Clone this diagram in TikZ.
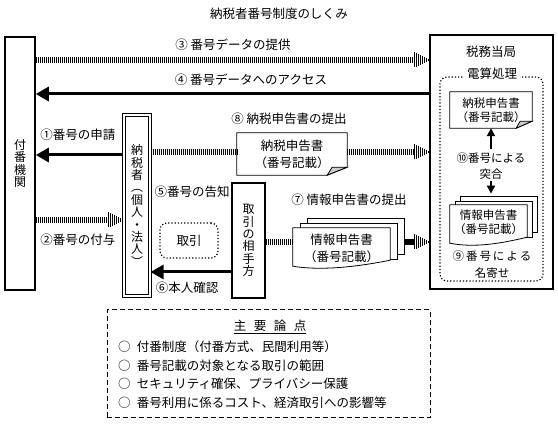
\documentclass[tikz,border=0pt]{standalone}
\usepackage{fontspec}
\newfontfamily\jpfont{Noto Sans CJK JP}
\usetikzlibrary{arrows.meta}
\tikzset{
every node/.style={font=\jpfont\fontsize{12.5}{15}\selectfont, inner sep=0pt},
vtext/.style={align=center, font=\jpfont\fontsize{12}{12.4}\selectfont},
box/.style={draw, line width=1.6pt},
dotbox/.style={draw, dotted, line width=1.2pt, rounded corners=7pt},
doc/.style={align=center, font=\jpfont\fontsize{12.5}{17}\selectfont},
smalldoc/.style={align=center, font=\jpfont\fontsize{11.5}{14}\selectfont},
docline/.style={draw, line width=0.8pt},
backdoc/.style={draw, fill=white, line width=0.8pt},
solidarrow/.style={line width=3pt, -{Triangle[length=13pt,width=14pt]}},
smallarrow/.style={line width=2pt, -{Triangle[length=8pt,width=8pt]}},
hatch/.style={line width=6pt, dash pattern=on 1.2pt off 0.8pt},
hatchtip/.pic={
  \foreach \i in {0,...,7}
    \draw[line width=1.1pt, solid, shorten >=0pt, shorten <=0pt] (-15+2*\i,{-7.5*(1-\i/8)}) -- (-15+2*\i,{7.5*(1-\i/8)});
  }
}
\begin{document}
\begin{tikzpicture}[x=1pt,y=-1pt]
\useasboundingbox (0,0) rectangle (558,425);

\node (title) at (279,14) {納税者番号制度のしくみ};

\node[box, vtext, minimum width=30pt, minimum height=253pt] (fuban) at (20,163.5) {付\\番\\機\\関};
\node[box, minimum width=123pt, minimum height=254pt] (zeimu) at (491.5,162) {};
\node (zeimulabel) at (491,52) {税務当局};
\node[dotbox, minimum width=103pt, minimum height=204pt] (densan) at (491.5,179) {};
\node[fill=white, inner xsep=3pt, inner ysep=1pt] (densanlabel) at (492,74) {電算処理};

\node[draw, double, double distance=2pt, line width=1.1pt, vtext, minimum width=26pt, minimum height=181pt] (taxpayer) at (137,205.5) {納\\税\\者\\︵\\個\\人\\・\\法\\人\\︶};
\node[box, vtext, minimum width=33pt, minimum height=115pt] (aite) at (248.5,240.5) {取\\引\\の\\相\\手\\方};
\node[dotbox, minimum width=58pt, minimum height=35pt] (torihiki) at (189,240.5) {取引};

% tax return
\node[doc, minimum width=110pt, minimum height=42pt] (tdoc) at (292,154) {納税申告書\\（番号記載）};
\draw[docline] (tdoc.north west) -- (tdoc.north east) -- ([yshift=8pt]tdoc.south east) -- ([xshift=-20pt]tdoc.south east) -- (tdoc.south west) -- cycle;
\filldraw[docline, fill=gray!40] ([xshift=-20pt]tdoc.south east) -- ([xshift=-15pt,yshift=8pt]tdoc.south east) -- ([yshift=8pt]tdoc.south east) -- cycle;

\node[smalldoc, minimum width=82pt, minimum height=36pt] (tdoc2) at (491,110) {納税申告書\\（番号記載）};
\draw[docline] (tdoc2.north west) -- (tdoc2.north east) -- ([yshift=7pt]tdoc2.south east) -- ([xshift=-16pt]tdoc2.south east) -- (tdoc2.south west) -- cycle;
\filldraw[docline, fill=gray!40] ([xshift=-16pt]tdoc2.south east) -- ([xshift=-12pt,yshift=7pt]tdoc2.south east) -- ([yshift=7pt]tdoc2.south east) -- cycle;

% information returns
\node[backdoc, minimum width=97pt, minimum height=36pt] (idocc) at (355.5,236) {};
\node[backdoc, minimum width=97pt, minimum height=36pt] (idocb) at (348.5,241) {};
\node[minimum width=97pt, minimum height=38pt] (idoc) at (341.5,247) {};
\filldraw[docline, fill=white] ([yshift=6pt]idoc.south east) -- (idoc.north east) -- (idoc.north west) -- (idoc.south west) .. controls +(30pt,-5pt) and +(-30pt,-6pt) .. ([yshift=6pt]idoc.south east);
\node[doc] (idoctext) at (341.5,248.5) {情報申告書\\（番号記載）};

\node[backdoc, minimum width=77pt, minimum height=36pt] (idoc2c) at (498.5,214) {};
\node[backdoc, minimum width=77pt, minimum height=36pt] (idoc2b) at (493.5,219) {};
\node[minimum width=77pt, minimum height=38pt] (idoc2) at (488.5,224) {};
\filldraw[docline, fill=white] ([yshift=6pt]idoc2.south east) -- (idoc2.north east) -- (idoc2.north west) -- (idoc2.south west) .. controls +(25pt,-5pt) and +(-25pt,-6pt) .. ([yshift=6pt]idoc2.south east);
\node[smalldoc] (idoc2text) at (488.5,222) {情報申告書\\（番号記載）};

\node[align=center, font=\jpfont\fontsize{11.5}{16}\selectfont] (k10) at (491,166) {⑩番号による\\突合};
\node[align=center, font=\jpfont\fontsize{11.5}{17}\selectfont] (k9) at (492,265) {⑨\,番\,号\,に\,よ\,る\\名寄せ};
\draw[smallarrow, shorten <=3pt] (k10.north) -- (k10.north |- tdoc2.south);
\draw[smallarrow, shorten <=1pt, shorten >=2pt] (k10.south) -- (k10.south |- idoc2c.north);

% flows
\node (l3) at (233,45) {③ 番号データの提供};
\draw[hatch, shorten >=15pt] (fuban.east |- 0,60) -- (zeimu.west |- 0,60) pic {hatchtip};
\node (l4) at (251,80) {④ 番号データへのアクセス};
\draw[solidarrow] (zeimu.west |- 0,94) -- (fuban.east |- 0,94);

\node (l1) at (78,135) {①番号の申請};
\draw[solidarrow] (taxpayer.west |- 0,155) -- (fuban.east |- 0,155);
\node (l2) at (78,240) {②番号の付与};
\draw[hatch, shorten >=15pt] (fuban.east |- 0,220) -- (taxpayer.west |- 0,220) pic {hatchtip};

\node (l8) at (289,119) {⑧ 納税申告書の提出};
\draw[hatch] (taxpayer.east |- 0,152) -- (tdoc.west |- 0,152);
\draw[hatch, shorten >=15pt] (tdoc.east |- 0,152) -- (zeimu.west |- 0,152) pic {hatchtip};

\node (l5) at (192,192) {⑤番号の告知};
\node (l6) at (187,288) {⑥本人確認};
\draw[solidarrow] (aite.west |- 0,272) -- (taxpayer.east |- 0,272);

\node (l7) at (349,200) {⑦ 情報申告書の提出};
\draw[hatch] (aite.east |- 0,242) -- (idoc.west |- 0,242);
\draw[hatch, shorten >=15pt] (idocc.east |- 0,242) -- (zeimu.west |- 0,242) pic {hatchtip};

% issues
\node[draw, dash pattern=on 5pt off 3pt, line width=1pt, minimum width=323pt, minimum height=108pt] (ronten) at (268.5,364) {};
\node (rontenhead) at (270,327) {\underline{主\hspace{0.6em}要\hspace{0.6em}論\hspace{0.6em}点}};
\node[anchor=west] (item1) at (118,347) {○\hspace{0.5em}付番制度（付番方式、民間利用等）};
\node[anchor=west] (item2) at (118,365.5) {○\hspace{0.5em}番号記載の対象となる取引の範囲};
\node[anchor=west] (item3) at (118,384) {○\hspace{0.5em}セキュリティ確保、プライバシー保護};
\node[anchor=west] (item4) at (118,402.5) {○\hspace{0.5em}番号利用に係るコスト、経済取引への影響等};
\end{tikzpicture}
\end{document}
